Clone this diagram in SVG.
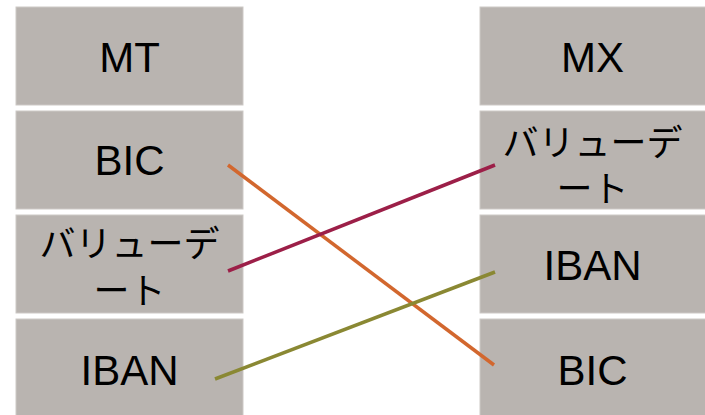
<svg xmlns="http://www.w3.org/2000/svg" width="705" height="415" viewBox="0 0 705 415">
<style>
.box{fill:#B9B4B0;stroke:#CDC9C6;stroke-width:1}
.lt{font-family:"Liberation Sans",Arial,sans-serif;font-size:42px;fill:#000;text-anchor:middle}
.jp{font-family:"Noto Sans CJK JP","Noto Sans CJK SC",sans-serif;font-size:36px;fill:#000;text-anchor:middle}
.c{fill:none;stroke-width:3.5}
</style>
<rect width="705" height="415" fill="#fff"/>
<g id="mt"><rect class="box" x="16" y="7" width="227" height="98"/><text class="lt" x="129.5" y="72">MT</text></g>
<g id="bic-left"><rect class="box" x="16" y="111" width="227" height="98"/><text class="lt" x="129.5" y="175">BIC</text></g>
<g id="validate-left"><rect class="box" x="16" y="215" width="227" height="98"/><text class="jp" x="129.5" y="257">バリューデ</text><text class="jp" x="129.5" y="304">ート</text></g>
<g id="iban-left"><rect class="box" x="16" y="319" width="227" height="100"/><text class="lt" x="129.5" y="385">IBAN</text></g>
<g id="mx"><rect class="box" x="480" y="7" width="230" height="98"/><text class="lt" x="592.5" y="72">MX</text></g>
<g id="validate-right"><rect class="box" x="480" y="111" width="230" height="98"/><text class="jp" x="592.5" y="156">バリューデ</text><text class="jp" x="592.5" y="202">ート</text></g>
<g id="iban-right"><rect class="box" x="480" y="215" width="230" height="98"/><text class="lt" x="592.5" y="280">IBAN</text></g>
<g id="bic-right"><rect class="box" x="480" y="319" width="230" height="100"/><text class="lt" x="592.5" y="385">BIC</text></g>
<g id="connectors">
<line class="c" x1="228" y1="165" x2="494" y2="365" stroke="#D2672E"/>
<line class="c" x1="228" y1="271" x2="495" y2="165" stroke="#9C1F48"/>
<line class="c" x1="215" y1="379" x2="495" y2="272" stroke="#8A8833"/>
</g>
</svg>
